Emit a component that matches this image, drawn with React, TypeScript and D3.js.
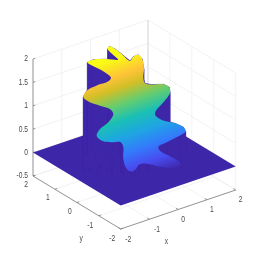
import * as d3 from "d3";

const width = 259;
const height = 259;

// axis ticks
const xTicks = [-2, -1, 0, 1, 2];
const yTicks = [-2, -1, 0, 1, 2];
const zTicks = [-0.5, 0, 0.5, 1, 1.5, 2];
const zTickLabels = ["-0.5", "0", "0.5", "1", "1.5", "2"];

// rim of the raised sheet
const rimX = [0.17, 0.2, 0.16, 0.3, 0.45, 0.62, 0.71, 0.67, 0.57, 0.57, 0.77, 1.15, 1.31, 1.29, 0.98, 0.66, 0.6, 0.76, 1.16, 1.39, 1.42, 1.2, 0.71, 0.4, 0.41, 0.73, 0.83, 0.69, 0.46, 0.22, -0.14, -0.38, -0.57, -0.74, -0.84, -0.83, -0.73, -0.77, -1.06, -1.36, -1.48, -1.31, -0.98, -0.74, -0.8, -1.09, -1.38, -1.54, -1.37, -1.0, -0.59, -0.47, -0.61, -0.88, -0.91, -0.68, -0.36, -0.13, -0.06, 0.03];
const rimY = [1.36, 1.14, 0.79, 0.59, 0.63, 0.64, 0.57, 0.44, 0.34, 0.26, 0.22, 0.18, 0.13, 0.06, -0.04, -0.12, -0.16, -0.25, -0.34, -0.42, -0.48, -0.51, -0.55, -0.57, -0.63, -0.75, -0.99, -1.22, -1.17, -0.87, -0.74, -0.72, -0.78, -0.78, -0.71, -0.58, -0.46, -0.39, -0.35, -0.3, -0.22, -0.15, -0.1, -0.01, 0.07, 0.14, 0.22, 0.31, 0.38, 0.4, 0.41, 0.45, 0.53, 0.64, 0.95, 0.98, 0.79, 0.57, 0.88, 1.26];
const rimZ = [2, 2, 2, 1.88, 1.93, 1.93, 1.84, 1.67, 1.54, 1.44, 1.38, 1.32, 1.24, 1.15, 1.03, 0.94, 0.88, 0.76, 0.63, 0.52, 0.44, 0.41, 0.38, 0.35, 0.28, 0.11, 0.05, 0.05, 0.05, 0.05, 0.15, 0.18, 0.12, 0.12, 0.21, 0.39, 0.54, 0.64, 0.69, 0.77, 0.88, 0.97, 1.03, 1.13, 1.23, 1.34, 1.45, 1.57, 1.65, 1.68, 1.68, 1.72, 1.84, 1.98, 2, 2, 2, 2, 2, 2];

// two points on the sheet's tilted plane, low and high end of the colours
const sheetLow = [-1.19, -0.946, -0.1];
const sheetHigh = [-1.43, 0.655, 2];

// parula
const parula = ["#3e26a8", "#484df0", "#327cfc", "#20a5e3", "#19bfb6", "#64cd6f", "#d1bf27", "#fec338", "#f9fb15"];
const parulaAt = [0, 8 / 63, 16 / 63, 24 / 63, 32 / 63, 40 / 63, 48 / 63, 54 / 63, 1];

// oblique view, each axis contributes to both screen directions
const xToH = d3.scaleLinear().domain([-2, 2]).range([-57.5, 57.5]);
const xToV = d3.scaleLinear().domain([-2, 2]).range([19.5, -19.5]);
const yToH = d3.scaleLinear().domain([-2, 2]).range([43.85, -43.85]);
const yToV = d3.scaleLinear().domain([-2, 2]).range([26.5, -26.5]);
const zToV = d3.scaleLinear().domain([-0.5, 2]).range([183, 66]);

const project = (x: number, y: number, z: number): [number, number] => [
  134.35 + xToH(x) + yToH(y),
  zToV(z) + xToV(x) + yToV(y),
];

const seg = (a: [number, number], b: [number, number]) => `M${a[0]},${a[1]}L${b[0]},${b[1]}`;

const gridColor = "#ececec";
const axisColor = "#7d7d7d";
const textColor = "#4a4a4a";

const App = () => {
  const rim = rimX.map((x, i) => project(x, rimY[i], rimZ[i]));
  const foot = rimX.map((x, i) => project(x, rimY[i], 0));
  const rimPath = d3.line().curve(d3.curveCatmullRomClosed.alpha(0.5))(rim) as string;
  const polygon = d3.line().curve(d3.curveLinearClosed);

  const floor = polygon([project(-2, 2, 0), project(-2, -2, 0), project(2, -2, 0), project(2, 2, 0)]) as string;

  const grid: string[] = [];
  zTicks.forEach((z) => {
    grid.push(seg(project(-2, 2, z), project(2, 2, z)));
    grid.push(seg(project(2, 2, z), project(2, -2, z)));
  });
  xTicks.forEach((x) => {
    grid.push(seg(project(x, 2, -0.5), project(x, 2, 2)));
    grid.push(seg(project(x, -2, -0.5), project(x, 2, -0.5)));
  });
  yTicks.forEach((y) => {
    grid.push(seg(project(2, y, -0.5), project(2, y, 2)));
    grid.push(seg(project(-2, y, -0.5), project(2, y, -0.5)));
  });

  const axes = [
    seg(project(-2, 2, -0.5), project(-2, 2, 2)),
    seg(project(-2, 2, -0.5), project(-2, -2, -0.5)),
    seg(project(-2, -2, -0.5), project(2, -2, -0.5)),
    ...zTicks.map((z) => seg(project(-2, 2, z), project(-1.92, 2, z))),
    ...xTicks.map((x) => seg(project(x, -2, -0.5), project(x, -1.9, -0.5))),
    ...yTicks.map((y) => seg(project(-2, y, -0.5), project(-1.92, y, -0.5))),
  ];

  const low = project(sheetLow[0], sheetLow[1], sheetLow[2]);
  const high = project(sheetHigh[0], sheetHigh[1], sheetHigh[2]);

  const label = (text: string, p: [number, number], dx: number, dy: number, key: string, anchor = "middle") => (
    <text
      key={key}
      transform={`translate(${p[0] + dx},${p[1] + dy}) scale(0.82,1)`}
      textAnchor={anchor}
      dy="0.35em"
      fontSize={8.2}
      fill={textColor}
      fontFamily="'Liberation Sans', Arial, sans-serif"
    >
      {text}
    </text>
  );

  return (
    <svg width={width} height={height} style={{ position: "fixed", left: 0, top: 0, background: "#fff" }}>
      <defs>
        <linearGradient id="sheet" gradientUnits="userSpaceOnUse" x1={low[0]} y1={low[1]} x2={high[0]} y2={high[1]}>
          {parula.map((c, i) => (
            <stop key={c} offset={parulaAt[i]} stopColor={c} />
          ))}
        </linearGradient>
        {/* the reference is a downscaled screenshot, everything is a bit soft */}
        <filter id="soft" x="-5%" y="-5%" width="110%" height="110%">
          <feGaussianBlur stdDeviation={0.3} />
        </filter>
      </defs>

      <g filter="url(#soft)">
        <path d={grid.join("")} stroke={gridColor} strokeWidth={0.7} fill="none" />
        <path d={seg(project(2, 2, -0.5), project(2, 2, 2))} stroke="#d8d8d8" strokeWidth={0.8} fill="none" />
        <path d={axes.join("")} stroke={axisColor} strokeWidth={0.8} fill="none" />

        <path d={floor} fill={parula[0]} />
        {rim.map((p, i) => {
          const j = (i + 1) % rim.length;
          return (
            <path
              key={i}
              d={polygon([p, rim[j], foot[j], foot[i]]) as string}
              fill={parula[0]}
              stroke={parula[0]}
              strokeWidth={0.4}
            />
          );
        })}
        <path d={rimPath} fill="url(#sheet)" />

        {zTicks.map((z, i) => label(zTickLabels[i], project(-2, 2, z), -5, -0.5, `z${z}`, "end"))}
        {xTicks.map((x) => label(String(x), project(x, -2, -0.5), x < 0 ? 7.5 : 5, x < 0 ? 9.7 : 9.3, `x${x}`))}
        {yTicks.map((y) => label(String(y), project(-2, y, -0.5), y < 0 ? -8.5 : -7, y < 0 ? 9.2 : 8.2, `y${y}`))}
        {label("x", project(0, -2, -0.5), -11.7, 32, "xlabel")}
        {label("y", project(-2, 0, -0.5), 4.3, 35.3, "ylabel")}
      </g>
    </svg>
  );
};

export default App;
